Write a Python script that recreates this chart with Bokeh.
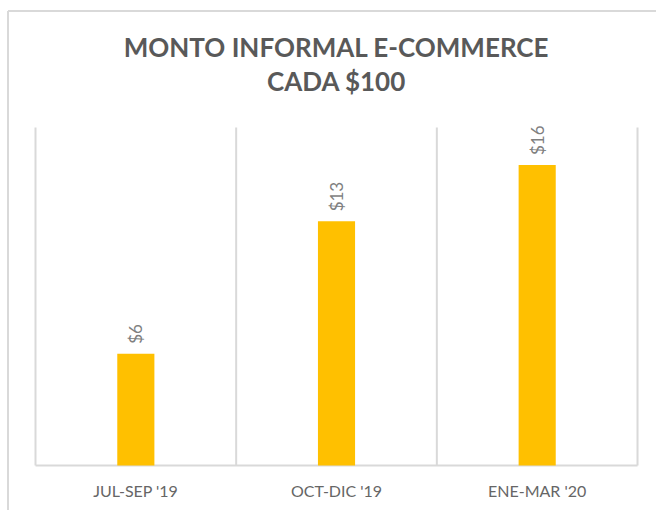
import numpy as np
from bokeh.plotting import figure
from bokeh.models import ColumnDataSource, Range1d
from bokeh.core.properties import value
from bokeh.embed import file_html
from bokeh.resources import INLINE

categories = ["JUL-SEP '19", "OCT-DIC '19", "ENE-MAR '20"]
values = [5.95, 13.0, 16.0]
value_labels = ["$6", "$13", "$16"]
title_lines = ["MONTO INFORMAL E-COMMERCE", "CADA $100"]
y_max = 18

n = len(categories)
xpos = np.arange(n) + 0.5
src = ColumnDataSource(dict(x=xpos, top=values, lab=value_labels, cat=categories))

# frame covers the whole canvas; ranges chosen so the plot area sits where the reference has it
p = figure(width=656, height=510, output_backend="svg", toolbar_location=None,
           x_range=Range1d(-0.1744, 3.0946), y_range=Range1d(-2.396, 24.76),
           min_border=0, min_border_left=0, min_border_right=0,
           min_border_top=0, min_border_bottom=0)
p.axis.visible = False
p.grid.visible = False
p.outline_line_color = None
p.background_fill_color = "white"
p.border_fill_color = "white"

# chart border (left and top edges visible in the crop)
p.segment(x0=[-0.137, -0.137], y0=[-3, 24.2], x1=[-0.137, 3.3], y1=[24.2, 24.2],
          line_color="#d9d9d9", line_width=2)

# vertical category separators and baseline
bounds = list(range(n + 1))
p.segment(x0=bounds, y0=[0] * len(bounds), x1=bounds, y1=[y_max] * len(bounds),
          line_color="#d9d9d9", line_width=2)
p.segment(x0=[0], y0=[0], x1=[n], y1=[0], line_color="#d9d9d9", line_width=2)

p.vbar(x="x", top="top", width=0.185, bottom=0, source=src,
       fill_color="#FFC000", line_color=None)

p.text(x="x", y="top", text="lab", source=src, angle=np.pi / 2,
       text_align="left", text_baseline="middle", y_offset=-10,
       text_font=value("Lato"), text_font_size="17px", text_color="#7f7f7f")

p.text(x="x", y=-1.33, text="cat", source=src, text_align="center",
       text_baseline="middle", text_font=value("Lato"), text_font_size="16px",
       text_color="#666666")

p.text(x=[n / 2, n / 2], y=[22.26, 20.5], text=title_lines, text_align="center",
       text_baseline="middle", text_font=value("Lato"), text_font_size="26px",
       text_font_style="bold", text_color="#595959")

open("out.html", "w").write(file_html(p, INLINE))
